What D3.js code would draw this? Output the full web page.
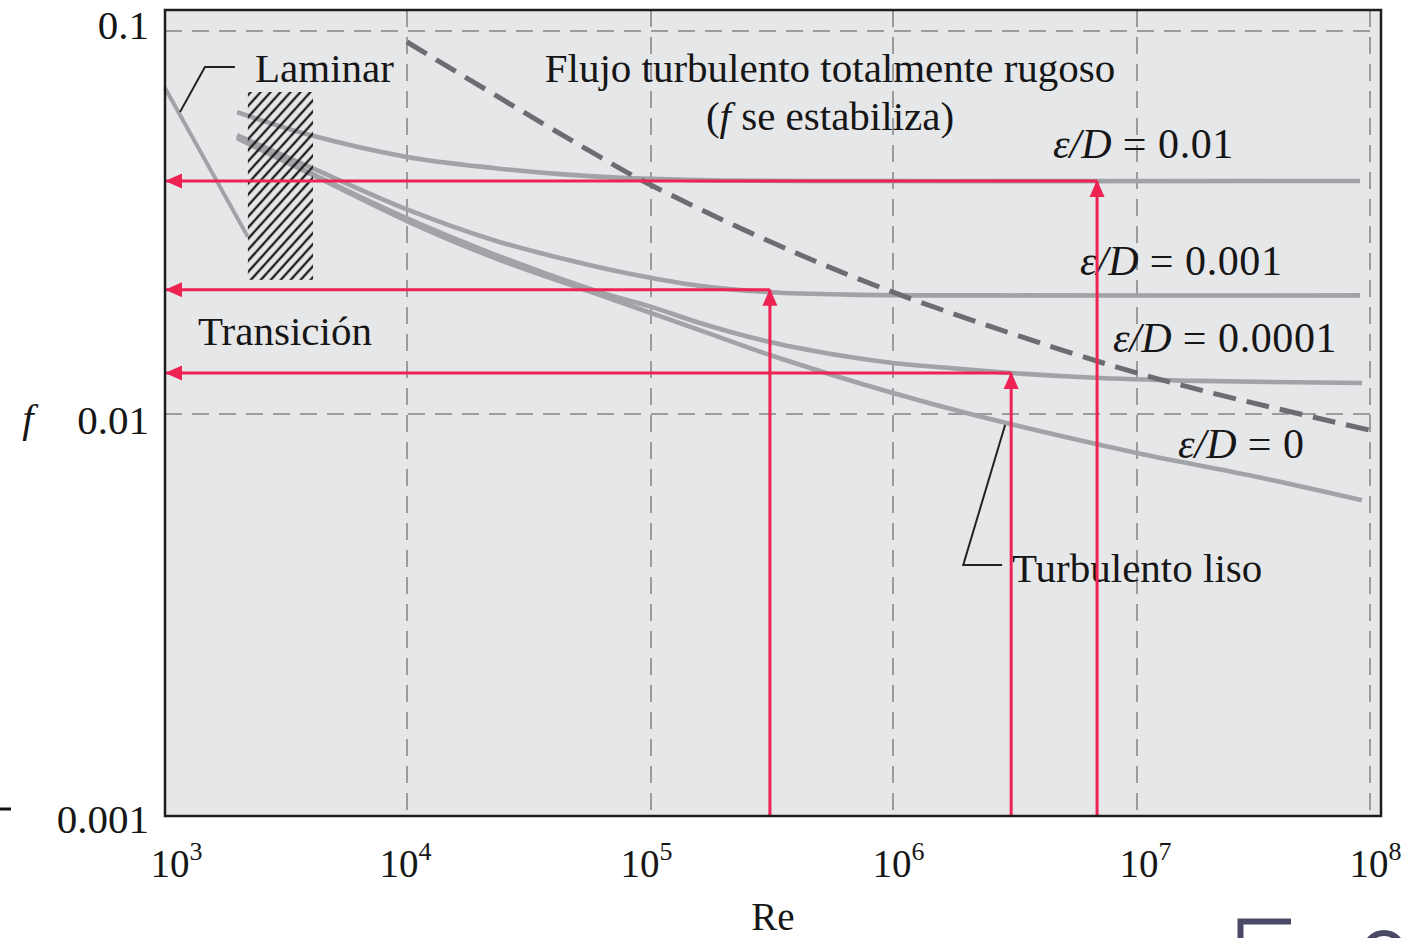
<!DOCTYPE html>
<html><head><meta charset="utf-8">
<script src="https://cdn.jsdelivr.net/npm/d3@7"></script>
<style>
body{margin:0;background:#fff}
svg{display:block}
text{font-family:"Liberation Serif","Times New Roman",serif;fill:#161616}
</style>
</head><body>
<svg id="c" width="1411" height="938"></svg>
<script>
// ---- tick data ----
const reTicks = [1e3, 1e4, 1e5, 1e6, 1e7, 1e8];
const reExponents = ["3", "4", "5", "6", "7", "8"];
const fTicks = [0.1, 0.01, 0.001];
const fTickLabels = ["0.1", "0.01", "0.001"];

// ---- curves (Re, f) ----
const seriesLabels = ["0.01", "0.001", "0.0001", "0"];
const re_e01 = [1984, 3975, 1e4, 22500, 42400, 79800, 159000, 413000, 9.06e7];
const f_e01  = [0.0614, 0.0535, 0.0469, 0.0439, 0.0423, 0.0413, 0.0408, 0.0406, 0.0406];
const re_e001 = [1984, 3975, 1e4, 22500, 42400, 79800, 159000, 310000, 664000, 2.7e6, 9.06e7];
const f_e001  = [0.0535, 0.0441, 0.0342, 0.02846, 0.02554, 0.0233, 0.0216, 0.0208, 0.0205, 0.0204, 0.0204];
const re_e0001 = [1984, 3975, 1e4, 22500, 61800, 99000, 159000, 310000, 664000, 1e6, 1.71e6, 3.05e6, 7.05e6, 1.86e7, 9.24e7];
const f_e0001  = [0.0529, 0.0426, 0.0324, 0.0262, 0.0208, 0.0191, 0.01729, 0.01542, 0.01408, 0.01359, 0.01318, 0.01279, 0.01242, 0.0122, 0.01205];
const re_e0 = [1984, 3975, 1e4, 22500, 61800, 159000, 310000, 1e6, 2.21e6, 1e7, 3.0e7, 9.24e7];
const f_e0  = [0.0525, 0.0424, 0.0319, 0.02565, 0.02045, 0.01655, 0.01426, 0.01134, 0.0099, 0.0080, 0.00705, 0.0061];

// fully rough boundary (dashed)
const re_rough = [1e4, 30450, 61800, 92700, 3.1e5, 1e6, 7.05e6, 1.86e7, 1.08e8];
const f_rough  = [0.0936, 0.0611, 0.0469, 0.0406, 0.0282, 0.0208, 0.01367, 0.01156, 0.00902];

// laminar segment
const re_lam = [1000, 2200];
const f_lam  = [0.071, 0.029];

// transition zone (hatched)
const re_trans = [2200, 4090];
const f_trans  = [0.0224, 0.0693];

// readings (red arrows)
const re_read = [3.1e5, 3.05e6, 6.86e6];
const f_read  = [0.0211, 0.0128, 0.0406];

// leader lines
const re_lamLeader = [1153, 1462, 1945];
const f_lamLeader  = [0.0614, 0.0805, 0.0805];
const re_smoothLeader = [2.88e6, 1.94e6, 2.80e6];
const f_smoothLeader  = [0.00939, 0.00421, 0.00421];

// ---- layout ----
const svg = d3.select("#c");
const L = 165, R = 1381, T = 10, B = 816;
const x = d3.scaleLog().domain(reTicks).range([165, 407, 651, 893, 1137, 1370]);
const y = d3.scaleLog().domain([0.001, 0.01, 0.1]).range([816, 414, 31]);

const GRAY = "#a2a3a7", RED = "#ee2253";

svg.append("rect").attr("x", L).attr("y", T).attr("width", R - L).attr("height", B - T).attr("fill", "#e6e7e9");

// grid
const grid = svg.append("g").attr("stroke", "#9b9b9d").attr("stroke-width", 2).attr("stroke-dasharray", "17,10");
grid.selectAll("line.v").data(reTicks.slice(1)).join("line")
  .attr("x1", d => x(d)).attr("x2", d => x(d)).attr("y1", T).attr("y2", B);
grid.selectAll("line.h").data(fTicks.slice(0, 2)).join("line")
  .attr("x1", L).attr("x2", R).attr("y1", d => y(d)).attr("y2", d => y(d));

// curves
const line = d3.line().x(d => x(d[0])).y(d => y(d[1])).curve(d3.curveCatmullRom.alpha(0.5));
const zip = (a, b) => a.map((v, i) => [v, b[i]]);
const curves = [zip(re_e01, f_e01), zip(re_e001, f_e001), zip(re_e0001, f_e0001), zip(re_e0, f_e0)];
svg.append("g").selectAll("path").data(curves).join("path")
  .attr("d", line).attr("fill", "none").attr("stroke", GRAY).attr("stroke-width", 4.6).attr("stroke-linecap", "butt");

// hatched transition
const defs = svg.append("defs");
const pat = defs.append("pattern").attr("id", "hatch").attr("patternUnits", "userSpaceOnUse")
  .attr("width", 7.4).attr("height", 7.4).attr("patternTransform", "rotate(42)");
pat.append("line").attr("x1", 3.7).attr("x2", 3.7).attr("y1", 0).attr("y2", 7.4).attr("stroke", "#1b1b1b").attr("stroke-width", 2.3);
svg.append("rect")
  .attr("x", x(re_trans[0])).attr("width", x(re_trans[1]) - x(re_trans[0]))
  .attr("y", y(f_trans[1])).attr("height", y(f_trans[0]) - y(f_trans[1]))
  .attr("fill", "url(#hatch)");

// laminar
svg.append("path").attr("d", d3.line().x(d => x(d[0])).y(d => y(d[1]))(zip(re_lam, f_lam)))
  .attr("fill", "none").attr("stroke", GRAY).attr("stroke-width", 4);

// fully rough dashed line
svg.append("path").attr("d", line(zip(re_rough, f_rough)))
  .attr("fill", "none").attr("stroke", "#6c6d71").attr("stroke-width", 5).attr("stroke-dasharray", "23,11");

// leaders
const plain = d3.line().x(d => x(d[0])).y(d => y(d[1]));
svg.append("path").attr("d", plain(zip(re_lamLeader, f_lamLeader))).attr("fill", "none").attr("stroke", "#222").attr("stroke-width", 2);
svg.append("path").attr("d", plain(zip(re_smoothLeader, f_smoothLeader))).attr("fill", "none").attr("stroke", "#222").attr("stroke-width", 2);

// texts
const fs = 41;
function txt(xp, yp, anchor, size) {
  return svg.append("text").attr("x", xp).attr("y", yp).attr("font-size", size || fs).attr("text-anchor", anchor || "start");
}
txt(255, 82).text("Laminar");
txt(830, 82, "middle").text("Flujo turbulento totalmente rugoso");
const t2 = txt(830, 130, "middle");
t2.append("tspan").text("(");
t2.append("tspan").attr("font-style", "italic").text("f");
t2.append("tspan").text(" se estabiliza)");
txt(198, 345).text("Transición");
txt(1012, 582).text("Turbulento liso");

const epsPos = [[1053, 158], [1080, 275], [1113, 352], [1178, 458]];
seriesLabels.forEach((s, i) => {
  const t = txt(epsPos[i][0], epsPos[i][1], "start", 42);
  t.append("tspan").attr("font-style", "italic").text("ε/D");
  t.append("tspan").text(" = " + s).attr("letter-spacing", 0.6);
});

// axes
const gy = svg.append("g").attr("transform", `translate(${L},0)`)
  .call(d3.axisLeft(y).tickValues(fTicks).tickFormat((d, i) => fTickLabels[i]).tickSize(0).tickPadding(16));
gy.select(".domain").remove();
const yDy = [7, 19, 16];
gy.selectAll(".tick text").attr("font-size", fs).attr("dy", (d, i) => yDy[i]).attr("fill", "#161616");

const gx = svg.append("g").attr("transform", `translate(0,${B})`)
  .call(d3.axisBottom(x).tickValues(reTicks).tickSize(0));
gx.select(".domain").remove();
const xDx = [11, -2, -5, 5, 8, 5];
gx.selectAll(".tick text").each(function (d, i) {
  const t = d3.select(this);
  t.text(null).attr("y", 61).attr("dy", 0).attr("dx", xDx[i]).attr("font-size", 39).attr("fill", "#161616");
  t.append("tspan").text("10");
  t.append("tspan").attr("dy", -17).attr("font-size", 26).text(reExponents[i]);
});
gx.attr("font-family", null);
gy.attr("font-family", null);

svg.append("text").attr("x", 28).attr("y", 432).attr("font-size", fs).attr("font-style", "italic").attr("text-anchor", "middle").text("f");
svg.append("text").attr("x", 773).attr("y", 930).attr("font-size", 39).attr("text-anchor", "middle").text("Re");

// red reading arrows
const mk = defs.append("marker").attr("id", "ah").attr("markerUnits", "userSpaceOnUse")
  .attr("viewBox", "0 -8 17 16").attr("markerWidth", 17).attr("markerHeight", 16)
  .attr("refX", 16).attr("refY", 0).attr("orient", "auto");
mk.append("path").attr("d", "M0,-7.5L17,0L0,7.5Z").attr("fill", RED);
const reads = zip(re_read, f_read);
const rg = svg.append("g").attr("stroke", RED).attr("stroke-width", 3).attr("fill", "none");
rg.selectAll("line.v").data(reads).join("line")
  .attr("x1", d => x(d[0])).attr("x2", d => x(d[0])).attr("y1", B).attr("y2", d => y(d[1]))
  .attr("marker-end", "url(#ah)");
rg.selectAll("line.h").data(reads).join("line")
  .attr("x1", d => x(d[0])).attr("x2", L + 1).attr("y1", d => y(d[1])).attr("y2", d => y(d[1]))
  .attr("marker-end", "url(#ah)");

// frame
svg.append("rect").attr("x", L).attr("y", T).attr("width", R - L).attr("height", B - T)
  .attr("fill", "none").attr("stroke", "#1e1e1e").attr("stroke-width", 2.5);

// cropped marks at image edges
svg.append("line").attr("x1", 0).attr("x2", 11).attr("y1", 809).attr("y2", 809).attr("stroke", "#111").attr("stroke-width", 3);
svg.append("path").attr("d", "M1240.5,938V921.5H1291").attr("fill", "none").attr("stroke", "#4a4a66").attr("stroke-width", 6);
svg.append("circle").attr("cx", 1384).attr("cy", 952).attr("r", 19).attr("fill", "none").attr("stroke", "#4a4a66").attr("stroke-width", 6);
</script>
</body></html>
